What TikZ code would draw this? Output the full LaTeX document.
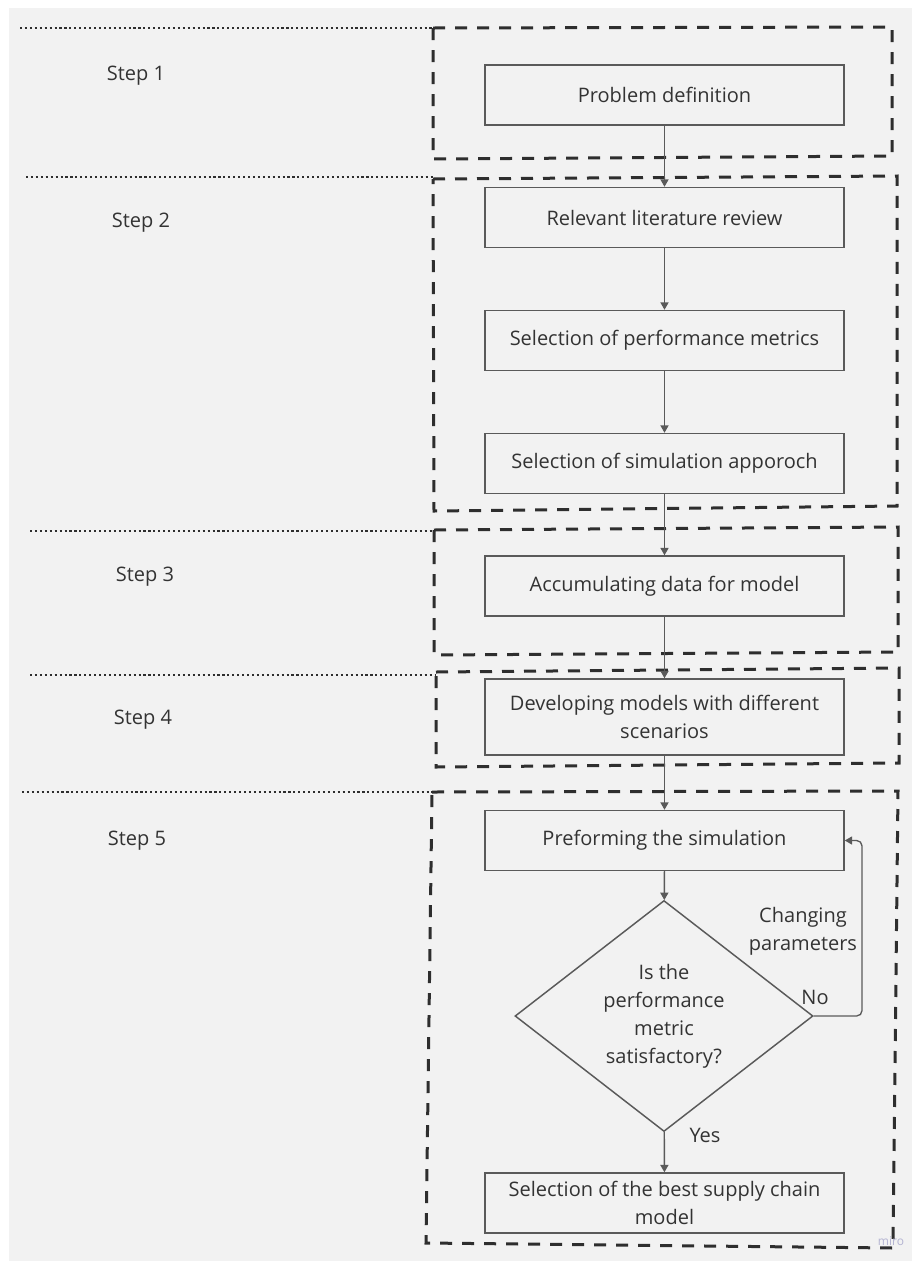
\documentclass[tikz,border=0pt]{standalone}
\usepackage{fontspec}
\setmainfont{Open Sans}
\usetikzlibrary{shapes.geometric,arrows.meta,calc}
\definecolor{canvas}{HTML}{F2F2F2}
\definecolor{ink}{HTML}{333333}
\definecolor{edge}{HTML}{5A5A5A}
\definecolor{frame}{HTML}{2E2E2E}
\definecolor{brand}{HTML}{B4B4D2}
\begin{document}
\begin{tikzpicture}[x=0.75pt,y=-0.75pt,
  every node/.style={font=\fontsize{15pt}{21pt}\selectfont, text=ink},
  stepbox/.style={draw=edge, line width=1.1pt, minimum width=269.25pt,
    minimum height=45pt, align=center, inner sep=0pt},
  decision/.style={draw=edge, line width=1.1pt, shape=diamond, shape aspect=1.29,
    minimum width=223.5pt, minimum height=173.25pt, inner sep=0pt, align=center},
  phaseframe/.style={draw=frame, line width=2.25pt, dash pattern=on 9pt off 7.5pt},
  divider/.style={draw=frame, line width=1.5pt, dash pattern=on 1.6pt off 2.1pt},
  flow/.style={draw=edge, line width=1pt, -{Triangle[length=5.5pt,width=6pt]}},
  tag/.style={inner sep=0pt, align=center}
]
% canvas
\useasboundingbox (0,0) rectangle (912,1261);
\fill[white] (0,0) rectangle (912,1261);
\fill[canvas] (9,8) rectangle (912,1261);

% phase frames
\draw[phaseframe] (433,28) -- (892,27) -- (892,156) -- (433,159) -- cycle;
\draw[phaseframe] (433,179) -- (897,176) -- (897,506) -- (434,511) -- cycle;
\draw[phaseframe] (434,530) -- (898,527) -- (898,652) -- (434,655) -- cycle;
\draw[phaseframe] (436,672) -- (899,668) -- (899,763) -- (436,767) -- cycle;
\draw[phaseframe] (432,792) -- (898,791) -- (893,1248) -- (426,1243) -- cycle;

% dotted dividers between steps
\draw[divider] (20,28) -- (433,28);
\draw[divider] (26,177) -- (433,177);
\draw[divider] (30,531) -- (434,531);
\draw[divider] (30,675) -- (436,675);
\draw[divider] (22,792) -- (432,792);

% step labels
\node[tag] (s1) at (136,76) {Step 1};
\node[tag] (s2) at (141,223) {Step 2};
\node[tag] (s3) at (145,577) {Step 3};
\node[tag] (s4) at (143,720) {Step 4};
\node[tag] (s5) at (137,841) {Step 5};

% process boxes
\node[stepbox] (b1) at (664.5,95) {Problem definition};
\node[stepbox] (b2) at (664.5,217.5) {Relevant literature review};
\node[stepbox] (b3) at (664.5,340.5) {Selection of performance metrics};
\node[stepbox] (b4) at (664.5,463.5) {Selection of simulation apporoch};
\node[stepbox] (b5) at (664.5,586) {Accumulating data for model};
\node[stepbox, minimum height=57pt] (b6) at (664.5,717) {Developing models with different\\scenarios};
\node[stepbox] (b7) at (664.5,840.5) {Preforming the simulation};
\node[decision] (d) at (664,1016) {Is the\\performance\\metric\\satisfactory?};
\node[stepbox] (b9) at (664.5,1203) {Selection of the best supply chain\\model};

% connectors
\draw[flow] (b1) -- (b2);
\draw[flow] (b2) -- (b3);
\draw[flow] (b3) -- (b4);
\draw[flow] (b4) -- (b5);
\draw[flow] (b5) -- (b6);
\draw[flow] (b6) -- (b7);
\draw[flow] (b7) -- (d);
\draw[flow] (d) -- (b9);
\coordinate (loop) at (862,0);
\draw[flow, rounded corners=4pt] (d.east) -| (loop |- b7.east) -- (b7.east);

% connector labels
\node[tag] (yes) at (705,1135) {Yes};
\node[tag] (no) at (815,997) {No};
\node[tag] (chg) at (803,931) {Changing\\parameters};

% watermark
\node[inner sep=0pt, text=brand, font=\fontsize{9pt}{10pt}\selectfont] (mark) at (891,1241) {miro};
\end{tikzpicture}
\end{document}
